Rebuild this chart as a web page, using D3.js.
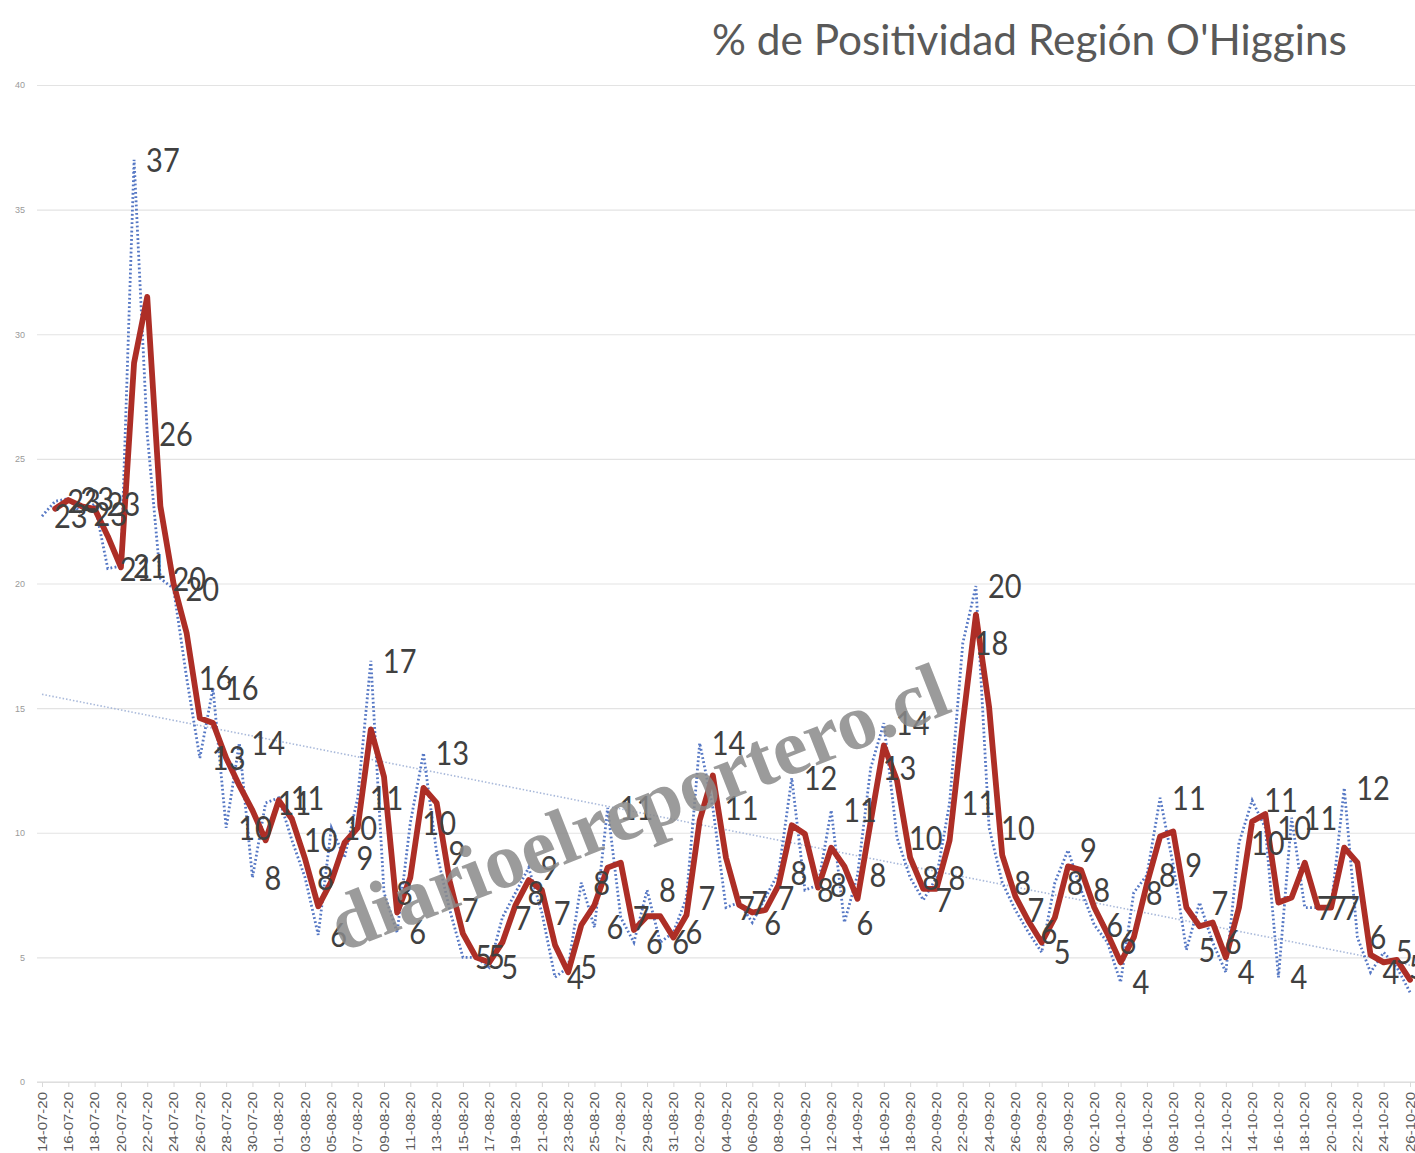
<!DOCTYPE html>
<html>
<head>
<meta charset="utf-8">
<title>% de Positividad Región O'Higgins</title>
<script src="https://d3js.org/d3.v7.min.js"></script>
<style>
  body { margin: 0; background: #fff; }
  svg { display: block; }
</style>
</head>
<body>
<svg id="chart" width="1415" height="1153"></svg>
<script>
// daily positivity %, 14-07-20 .. 26-10-20
var startDate = "14-07-20", endDate = "26-10-20";
var positividad = [
  22.7, 23.3, 23.4, 22.8, 23.2, 20.6, 20.7, 37.0, 26.0, 20.2,
  19.8, 16.2, 13.0, 15.8, 10.2, 13.6, 8.2, 11.2, 11.4, 9.7,
  8.2, 5.9, 10.2, 9.0, 11.4, 16.9, 7.6, 6.0, 10.4, 13.2,
  9.2, 6.9, 5.0, 5.0, 4.6, 6.6, 7.6, 8.6, 6.8, 4.2,
  4.6, 8.0, 6.2, 11.0, 6.6, 5.6, 7.7, 5.6, 6.0, 7.4,
  13.6, 11.0, 7.0, 7.2, 6.4, 7.4, 8.4, 12.2, 7.7, 7.9,
  10.9, 6.4, 8.3, 12.6, 14.4, 9.8, 8.2, 7.3, 8.2, 11.2,
  17.6, 19.9, 10.2, 8.0, 6.9, 6.0, 5.2, 8.0, 9.3, 7.7,
  6.3, 5.6, 4.0, 7.6, 8.3, 11.4, 8.7, 5.3, 7.2, 5.6,
  4.4, 9.6, 11.3, 10.2, 4.2, 10.6, 7.0, 7.0, 7.0, 11.8,
  5.8, 4.4, 5.2, 4.6, 3.6
];
var yTicks = [0, 5, 10, 15, 20, 25, 30, 35, 40];
var titulo = "% de Positividad Región O'Higgins";
var marca = "diarioelreportero.cl";

var W = 1415, H = 1153;
var svg = d3.select("#chart");

var parse = d3.timeParse("%d-%m-%y"), fmt = d3.timeFormat("%d-%m-%y");
var fechas = d3.timeDay.range(parse(startDate), d3.timeDay.offset(parse(endDate), 1)).map(fmt);

var x = d3.scalePoint().domain(fechas).range([42, 1410]);
var y = d3.scaleLinear().domain([0, 40]).range([1082, 85]);

// y axis + gridlines
var yAxis = svg.append("g")
  .attr("transform", "translate(37,0)")
  .call(d3.axisLeft(y).tickValues(yTicks).tickSize(-(W - 37)).tickPadding(12));
yAxis.select(".domain").remove();
yAxis.selectAll("line").attr("stroke", "#e3e3e3").attr("stroke-width", 1.2);
yAxis.selectAll("text").attr("fill", "#9a9a9a").style("font", "9px 'Liberation Sans', Arial, sans-serif");

// x axis
svg.append("line").attr("x1", 37).attr("x2", W).attr("y1", y(0)).attr("y2", y(0))
  .attr("stroke", "#d9d9d9").attr("stroke-width", 1.2);
var xAxis = svg.append("g")
  .attr("transform", "translate(0," + y(0) + ")")
  .call(d3.axisBottom(x).tickValues(fechas.filter(function(d, i) { return i % 2 === 0; })).tickSize(5));
xAxis.select(".domain").remove();
xAxis.selectAll("line").attr("stroke", "#d9d9d9");
xAxis.selectAll("text")
  .attr("transform", "rotate(-90) scale(1.25,1)")
  .attr("x", -8).attr("y", 0).attr("dy", "0.35em")
  .style("text-anchor", "end")
  .attr("fill", "#5a5a5a")
  .style("font", "12px 'Liberation Sans', Arial, sans-serif");

// linear trend (least squares)
var n = positividad.length;
var mx = d3.mean(d3.range(n)), my = d3.mean(positividad);
var sxy = d3.sum(positividad, function(v, i) { return (i - mx) * (v - my); });
var sxx = d3.sum(d3.range(n), function(i) { return (i - mx) * (i - mx); });
var b = sxy / sxx, a = my - b * mx;
svg.append("line")
  .attr("x1", x(fechas[0])).attr("y1", y(a))
  .attr("x2", x(fechas[n - 1])).attr("y2", y(a + b * (n - 1)))
  .attr("stroke", "#a9b9da").attr("stroke-width", 1.6)
  .attr("stroke-dasharray", "1.5,2");

// daily series, dotted
var linea = d3.line()
  .x(function(d) { return x(d.f); })
  .y(function(d) { return y(d.v); });
var diario = positividad.map(function(v, i) { return { f: fechas[i], v: v }; });
svg.append("path").datum(diario)
  .attr("d", linea)
  .attr("fill", "none")
  .attr("stroke", "#5577c4").attr("stroke-width", 2.8)
  .attr("stroke-dasharray", "1.8,2.4");

// 2 period moving average
var media = diario.slice(1).map(function(d, i) {
  return { f: d.f, v: (d.v + diario[i].v) / 2 };
});
svg.append("path").datum(media)
  .attr("d", linea)
  .attr("fill", "none")
  .attr("stroke", "#ad2e26").attr("stroke-width", 5.8)
  .attr("stroke-linejoin", "round").attr("stroke-linecap", "round");

// data labels
svg.append("g").selectAll("text").data(diario).join("text")
  .attr("transform", function(d) { return "translate(" + (x(d.f) + 12) + "," + y(d.v) + ") scale(1,1.15)"; })
  .attr("dy", "0.36em")
  .attr("fill", "#404040")
  .style("font", "29px Lato, 'Open Sans', sans-serif")
  .text(function(d) { return Math.round(d.v); });

// watermark
svg.append("text")
  .attr("transform", "translate(638,806) rotate(-21.5)")
  .attr("text-anchor", "middle")
  .attr("dy", "0.35em")
  .attr("fill", "#8a8a8a").attr("fill-opacity", 0.85)
  .style("font", "bold 79px 'Liberation Serif', 'Times New Roman', serif")
  .text(marca);

// title
var t = svg.append("text")
  .attr("x", 712).attr("y", 40)
  .attr("dy", "0.35em")
  .attr("fill", "#595959")
  .style("font", "36px Lato, 'Open Sans', sans-serif")
  .text(titulo);
var tw = t.node().getComputedTextLength();
t.style("font-size", (36 * 635 / tw) + "px");
</script>
</body>
</html>
